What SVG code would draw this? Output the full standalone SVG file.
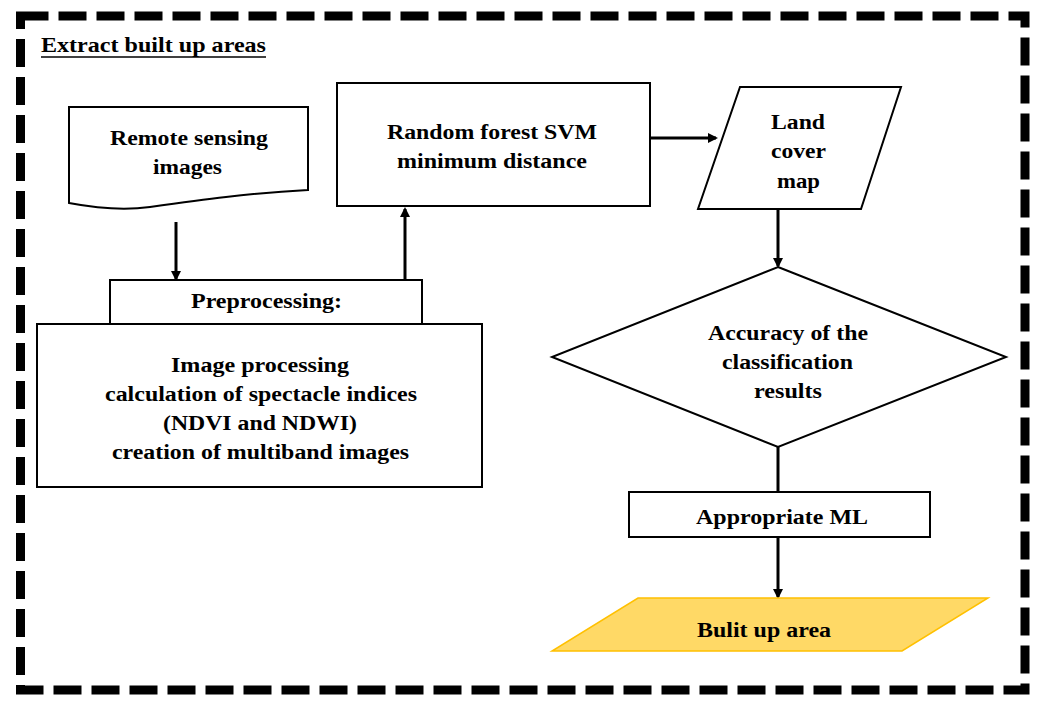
<svg xmlns="http://www.w3.org/2000/svg" width="1045" height="702" viewBox="0 0 1045 702">
<defs>
<style>
text{font-family:"Liberation Serif","Times New Roman",serif;font-weight:bold;font-size:20px;fill:#000;text-anchor:middle}
.shape{fill:#fff;stroke:#000;stroke-width:2}
.conn{stroke:#000;stroke-width:3;fill:none}
</style>
<marker id="arr" markerWidth="10" markerHeight="10" refX="8" refY="5" orient="auto" markerUnits="userSpaceOnUse">
<path d="M0,0 L10,5 L0,10 Z" fill="#000"/>
</marker>
</defs>
<rect width="1045" height="702" fill="#fff"/>
<rect x="20.5" y="16" width="1004.5" height="674" fill="none" stroke="#000" stroke-width="9" stroke-dasharray="28 10"/>
<g id="title">
<text x="41" y="52" style="text-anchor:start;font-size:21px" textLength="225" lengthAdjust="spacingAndGlyphs">Extract built up areas</text>
<line x1="41" y1="57" x2="266" y2="57" stroke="#000" stroke-width="1.5"/>
</g>
<g id="connectors">
<line class="conn" x1="176" y1="222" x2="176" y2="279" marker-end="url(#arr)"/>
<line class="conn" x1="405" y1="280" x2="405" y2="209" marker-end="url(#arr)"/>
<line class="conn" x1="650" y1="138" x2="716" y2="138" marker-end="url(#arr)"/>
<line class="conn" x1="778" y1="210" x2="778" y2="266" marker-end="url(#arr)"/>
<line class="conn" x1="778" y1="447" x2="778" y2="492"/>
<line class="conn" x1="778" y1="537" x2="778" y2="597" marker-end="url(#arr)"/>
</g>
<g id="remote-sensing">
<path class="shape" d="M69,107 H308 V190 C250,193 200,200 150,207 C120,211 90,207 69,203 Z"/>
<text x="189" y="145" textLength="158" lengthAdjust="spacingAndGlyphs">Remote sensing</text>
<text x="187.5" y="174" textLength="69" lengthAdjust="spacingAndGlyphs">images</text>
</g>
<g id="preprocessing">
<rect class="shape" x="110" y="280" width="312" height="44"/>
<text x="266.5" y="308" textLength="151" lengthAdjust="spacingAndGlyphs">Preprocessing:</text>
</g>
<g id="image-processing">
<rect class="shape" x="37" y="324" width="445" height="163"/>
<text x="260" y="372" textLength="178" lengthAdjust="spacingAndGlyphs">Image processing</text>
<text x="261" y="401" textLength="312" lengthAdjust="spacingAndGlyphs">calculation of spectacle indices</text>
<text x="260" y="430" textLength="194" lengthAdjust="spacingAndGlyphs">(NDVI and NDWI)</text>
<text x="260.5" y="459" textLength="297" lengthAdjust="spacingAndGlyphs">creation of multiband images</text>
</g>
<g id="classifiers">
<rect class="shape" x="337" y="83" width="313" height="123"/>
<text x="492" y="139" textLength="210" lengthAdjust="spacingAndGlyphs">Random forest SVM</text>
<text x="492" y="168" textLength="190" lengthAdjust="spacingAndGlyphs">minimum distance</text>
</g>
<g id="land-cover">
<polygon class="shape" points="740,87 901,87 861,209 698,209"/>
<text x="798" y="129" textLength="54" lengthAdjust="spacingAndGlyphs">Land</text>
<text x="798.5" y="158" textLength="55" lengthAdjust="spacingAndGlyphs">cover</text>
<text x="798.5" y="188" textLength="43" lengthAdjust="spacingAndGlyphs">map</text>
</g>
<g id="accuracy">
<polygon class="shape" points="778,267 1006,357 778,447 552,357"/>
<text x="788" y="340" textLength="160" lengthAdjust="spacingAndGlyphs">Accuracy of the</text>
<text x="787.5" y="369" textLength="131" lengthAdjust="spacingAndGlyphs">classification</text>
<text x="788" y="398" textLength="68" lengthAdjust="spacingAndGlyphs">results</text>
</g>
<g id="appropriate-ml">
<rect class="shape" x="629" y="492" width="301" height="45"/>
<text x="782" y="524" textLength="172" lengthAdjust="spacingAndGlyphs">Appropriate ML</text>
</g>
<g id="built-up">
<polygon points="638,598 988,598 902,651 552,651" fill="#FFD966" stroke="#FFC000" stroke-width="1.5"/>
<text x="764" y="637" textLength="134" lengthAdjust="spacingAndGlyphs">Bulit up area</text>
</g>
</svg>
